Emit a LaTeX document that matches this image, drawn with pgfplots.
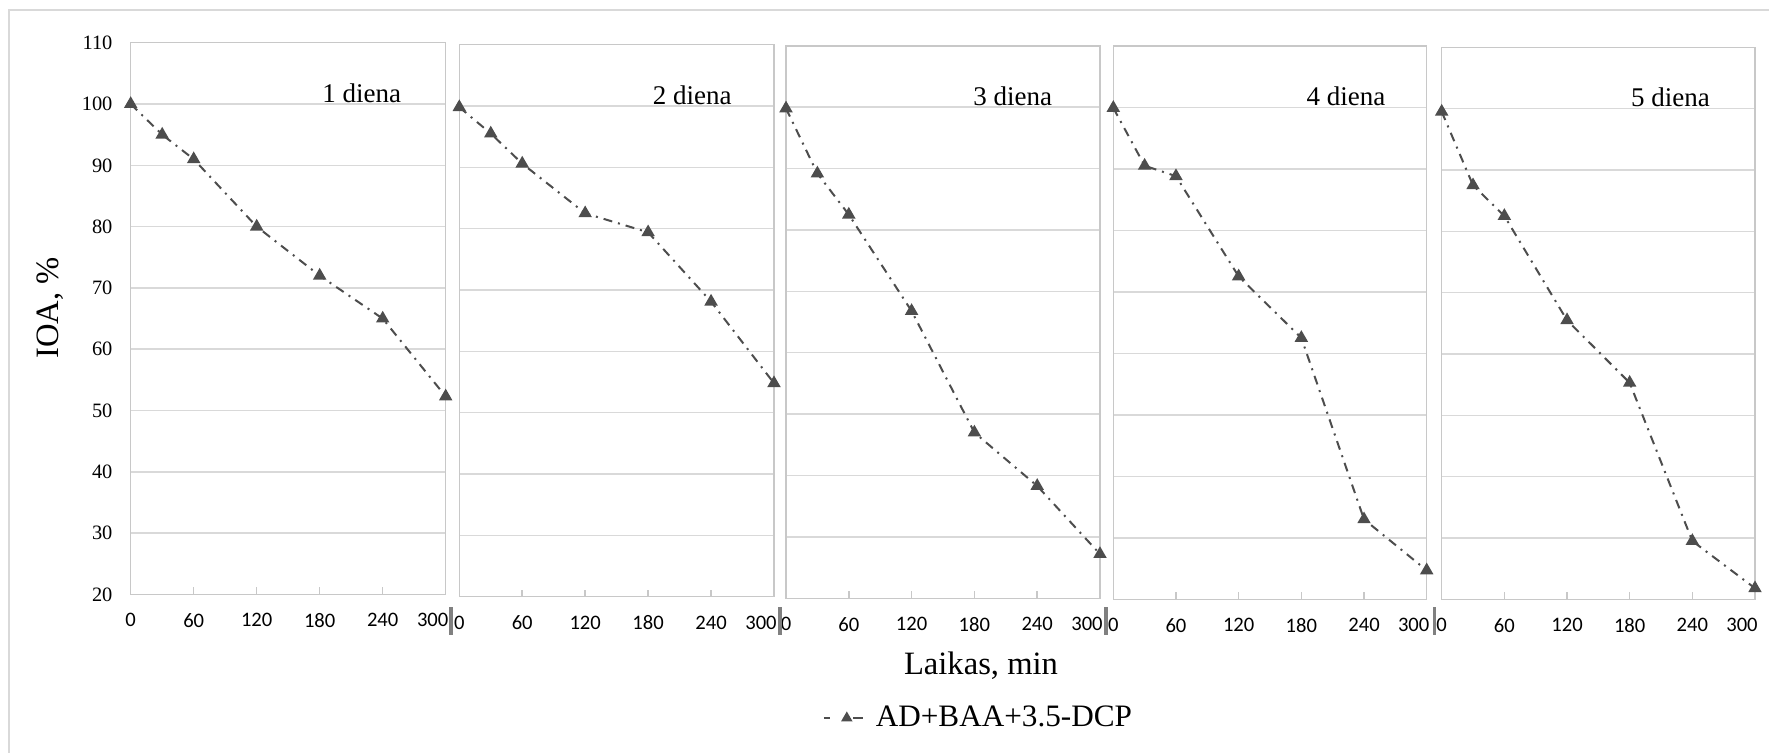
\documentclass[border=0pt]{standalone}
\usepackage{fontspec}
\setmainfont{Liberation Serif}
\newfontfamily\calibri{Carlito}
\usepackage{pgfplots}
\pgfplotsset{compat=1.18}

\definecolor{gridc}{HTML}{D9D9D9}
\definecolor{framec}{HTML}{C8C8C8}
\definecolor{linec}{HTML}{4D4D4D}
\definecolor{barc}{HTML}{808080}

\pgfplotsset{
  panel/.style={
    scale only axis,
    xmin=0, xmax=300, ymin=20, ymax=110,
    xtick={0,60,120,180,240},
    extra x ticks={300},
    extra x tick style={xticklabel style={xshift=-6.5pt}},
    ytick={20,30,...,110},
    xtick pos=lower, ytick pos=left,
    ymajorgrids,
    major grid style={color=gridc, line width=0.75pt},
    axis line style={color=framec, line width=0.75pt},
    tick align=inside,
    major tick length=3.5pt,
    ytick style={draw=none},
    xtick style={color=framec, line width=0.75pt},
    /pgf/number format/assume math mode=true,
    xticklabel style={font=\calibri\fontsize{10.3pt}{12pt}\selectfont, yshift=-6pt},
    yticklabel style={font=\fontsize{10.2pt}{12pt}\selectfont, xshift=-5.6pt},
    yticklabel=\empty,
    clip=false,
    anchor=south west,
  },
  series/.style={
    color=linec, line width=1pt,
    dash pattern=on 4.5pt off 3pt on 1pt off 3pt,
    mark=triangle*, mark size=2.9pt,
    mark options={solid, fill=linec},
  },
}
\tikzset{day/.style={anchor=base, font=\fontsize{13.5pt}{16pt}\selectfont}}

\begin{document}
\begin{tikzpicture}
\useasboundingbox (0,0) rectangle (884.5pt,376.5pt);
\draw[gridc, line width=1pt] (4.5pt,0) -- (4.5pt,371.5pt) -- (884.5pt,371.5pt);

% 1 diena
\begin{axis}[panel, at={(65.35pt,79.25pt)}, width=157.5pt, height=275.9pt,
  yticklabel={\pgfmathprintnumber{\tick}},
  ylabel={IOA, \%},
  ylabel style={at={(axis description cs:-0.256,0.519)}, anchor=center, rotate=0,
    font=\fontsize{16.3pt}{19pt}\selectfont}]
\addplot[series] coordinates {
  (0,100) (30,95) (60,91) (120,80) (180,72) (240,65) (300,52.3)
};
\node[day] at (axis cs:220,100.3) {1 diena};
\end{axis}

% 2 diena
\begin{axis}[panel, at={(229.65pt,78.15pt)}, width=157.35pt, height=276.05pt]
\addplot[series] coordinates {
  (0,99.8) (30,95.5) (60,90.6) (120,82.5) (180,79.4) (240,68.1) (300,54.8)
};
\node[day] at (axis cs:222,100.3) {2 diena};
\end{axis}

% 3 diena
\begin{axis}[panel, at={(393pt,77.35pt)}, width=157pt, height=276.25pt,
  xlabel={Laikas, min},
  xlabel style={at={(axis description cs:0.621,-0.1225)}, anchor=center,
    font=\fontsize{16.3pt}{19pt}\selectfont},
  legend style={at={(axis description cs:0.616,-0.2167)}, anchor=center,
    draw=none, fill=none, font=\fontsize{15.6pt}{18pt}\selectfont,
    /tikz/every odd column/.append style={column sep=4pt}},
  legend image code/.code={
    \draw[#1, solid, mark=none] (0pt,0pt) -- (3pt,0pt);
    \draw[#1, solid, mark=none] (14.5pt,0pt) -- (19.5pt,0pt);
    \draw[#1, mark size=2.3pt] plot coordinates {(11.5pt,0pt)};
  }]
\addplot[series] coordinates {
  (0,99.8) (30,89.2) (60,82.5) (120,66.8) (180,47) (240,38.3) (300,27.2)
};
\addlegendentry{AD+BAA+3.5-DCP}
\node[day] at (axis cs:216.6,100.3) {3 diena};
\end{axis}

% 4 diena
\begin{axis}[panel, at={(556.65pt,76.85pt)}, width=156.7pt, height=276.75pt]
\addplot[series] coordinates {
  (0,99.9) (30,90.5) (60,88.8) (120,72.5) (180,62.5) (240,33) (300,24.7)
};
\node[day] at (axis cs:222.7,100.3) {4 diena};
\end{axis}

% 5 diena
\begin{axis}[panel, at={(720.85pt,76.85pt)}, width=156.65pt, height=276pt]
\addplot[series] coordinates {
  (0,99.5) (30,87.5) (60,82.5) (120,65.5) (180,55.3) (240,29.5) (300,21.8)
};
\node[day] at (axis cs:219,100.3) {5 diena};
\end{axis}

% separators between the panels
\fill[barc] (224.7pt,59pt) rectangle (226.3pt,73pt);
\fill[barc] (389.2pt,59pt) rectangle (390.8pt,73pt);
\fill[barc] (552.2pt,59pt) rectangle (553.8pt,73pt);
\fill[barc] (716.4pt,59pt) rectangle (718pt,73pt);
\end{tikzpicture}
\end{document}
